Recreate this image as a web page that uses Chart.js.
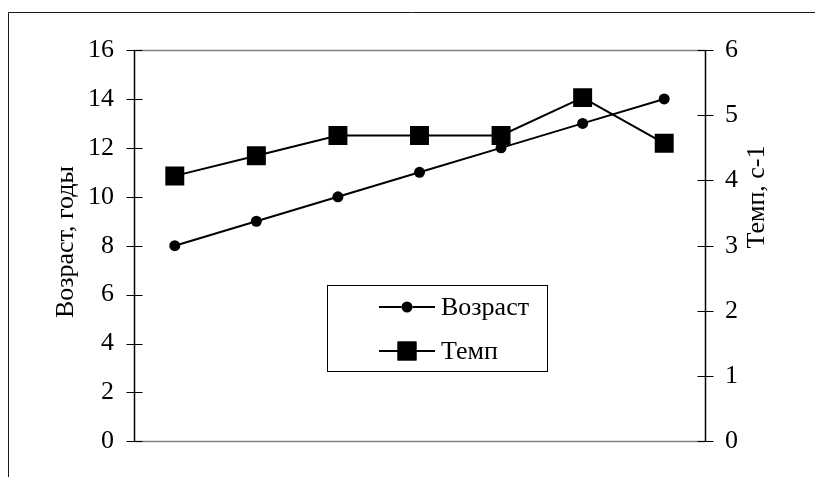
<!DOCTYPE html>
<html>
<head>
<meta charset="utf-8">
<script src="https://cdn.jsdelivr.net/npm/chart.js@4/dist/chart.umd.min.js"></script>
<style>
  html, body { margin: 0; padding: 0; background: #fff; }
  #wrap { width: 815px; height: 477px; }
</style>
</head>
<body>
<div id="wrap"><canvas id="c" width="815" height="477"></canvas></div>
<script>
// Measurement points (no labels are shown on the horizontal axis)
const categories = ['1', '2', '3', '4', '5', '6', '7'];
// Age, years (left axis)
const ageValues = [8, 9, 10, 11, 12, 13, 14];
// Tempo, s^-1 (right axis)
const tempoValues = [4.07, 4.38, 4.69, 4.69, 4.69, 5.27, 4.57];
// Axis text
const leftTitle = 'Возраст, годы';
const rightTitle = 'Темп, с-1';
const seriesNames = ['Возраст', 'Темп'];

const FONT = '"Liberation Serif", "Times New Roman", serif';
const FS = 26;

// Frame, axis lines with crossing tick marks, rotated titles and boxed legend
const decor = {
  id: 'decor',
  afterDatasetsDraw(chart) {
    const ctx = chart.ctx;
    const a = chart.chartArea;
    const yL = chart.scales.y, yR = chart.scales.y1;
    ctx.save();

    // outer frame (top and left edges)
    ctx.strokeStyle = '#1a1a1a';
    ctx.lineWidth = 1;
    ctx.beginPath();
    ctx.moveTo(8.5, 477); ctx.lineTo(8.5, 12.5); ctx.lineTo(815, 12.5);
    ctx.stroke();

    // plot area top/bottom edges
    ctx.strokeStyle = '#808080';
    ctx.lineWidth = 1.5;
    ctx.beginPath();
    ctx.moveTo(a.left, Math.round(a.top) + 0.5); ctx.lineTo(a.right, Math.round(a.top) + 0.5);
    ctx.moveTo(a.left, Math.round(a.bottom) + 0.5); ctx.lineTo(a.right, Math.round(a.bottom) + 0.5);
    ctx.stroke();

    // value axes with ticks crossing the line
    ctx.strokeStyle = '#000';
    ctx.lineWidth = 1.5;
    ctx.beginPath();
    const xl = Math.round(a.left) + 0.5, xr = Math.round(a.right) + 0.5;
    ctx.moveTo(xl, a.top); ctx.lineTo(xl, a.bottom);
    ctx.moveTo(xr, a.top); ctx.lineTo(xr, a.bottom);
    ctx.stroke();
    ctx.lineWidth = 1;
    ctx.beginPath();
    yL.ticks.forEach(t => {
      const py = Math.round(yL.getPixelForValue(t.value)) + 0.5;
      ctx.moveTo(xl - 8, py); ctx.lineTo(xl + 8, py);
    });
    yR.ticks.forEach(t => {
      const py = Math.round(yR.getPixelForValue(t.value)) + 0.5;
      ctx.moveTo(xr - 8, py); ctx.lineTo(xr + 8, py);
    });
    ctx.stroke();

    // axis titles, both reading bottom-to-top
    ctx.fillStyle = '#000';
    ctx.font = FS + 'px ' + FONT;
    ctx.textAlign = 'center';
    ctx.textBaseline = 'middle';
    ctx.save();
    ctx.translate(66, 242);
    ctx.rotate(-Math.PI / 2);
    ctx.fillText(leftTitle, 0, 0);
    ctx.restore();
    ctx.save();
    ctx.translate(757, 197);
    ctx.rotate(-Math.PI / 2);
    ctx.fillText(rightTitle, 0, 0);
    ctx.restore();

    // legend box
    const bx = 327.5, by = 285.5, bw = 220, bh = 86;
    ctx.fillStyle = '#fff';
    ctx.fillRect(bx, by, bw, bh);
    ctx.strokeStyle = '#000';
    ctx.lineWidth = 1;
    ctx.strokeRect(bx, by, bw, bh);
    const rows = [307, 351];
    chart.data.datasets.forEach((ds, i) => {
      const ry = rows[i];
      ctx.strokeStyle = ds.borderColor;
      ctx.lineWidth = 2;
      ctx.beginPath();
      ctx.moveTo(379, ry); ctx.lineTo(435, ry);
      ctx.stroke();
      Chart.helpers.drawPoint(ctx, {
        pointStyle: ds.pointStyle,
        radius: ds.pointRadius,
        borderWidth: 0
      }, 407, ry);
      ctx.fillStyle = '#000';
      ctx.fill();
      ctx.textAlign = 'left';
      ctx.textBaseline = 'middle';
      ctx.fillText(ds.label, 441, ry + 1);
    });

    ctx.restore();
  }
};

new Chart(document.getElementById('c'), {
  type: 'line',
  data: {
    labels: categories,
    datasets: [
      {
        label: seriesNames[0],
        data: ageValues,
        yAxisID: 'y',
        borderColor: '#000',
        backgroundColor: '#000',
        borderWidth: 2,
        pointStyle: 'circle',
        pointRadius: 5.5,
        pointBorderWidth: 0,
        tension: 0
      },
      {
        label: seriesNames[1],
        data: tempoValues,
        yAxisID: 'y1',
        borderColor: '#000',
        backgroundColor: '#000',
        borderWidth: 2,
        pointStyle: 'rect',
        pointRadius: 13.4,
        pointBorderWidth: 0,
        tension: 0
      }
    ]
  },
  options: {
    responsive: false,
    animation: false,
    layout: { padding: { top: 50, bottom: 35, left: 0, right: 0 } },
    plugins: { legend: { display: false }, tooltip: { enabled: false } },
    scales: {
      x: {
        type: 'category',
        offset: true,
        display: false
      },
      y: {
        position: 'left',
        min: 0, max: 16,
        afterFit(s) { s.width = 134; },
        grid: { display: false, drawTicks: false },
        border: { display: false },
        ticks: {
          stepSize: 2,
          padding: 20,
          color: '#000',
          font: { family: FONT, size: FS }
        }
      },
      y1: {
        position: 'right',
        min: 0, max: 6,
        afterFit(s) { s.width = 110; },
        grid: { display: false, drawTicks: false },
        border: { display: false },
        ticks: {
          stepSize: 1,
          padding: 20,
          color: '#000',
          font: { family: FONT, size: FS }
        }
      }
    }
  },
  plugins: [decor]
});
</script>
</body>
</html>
